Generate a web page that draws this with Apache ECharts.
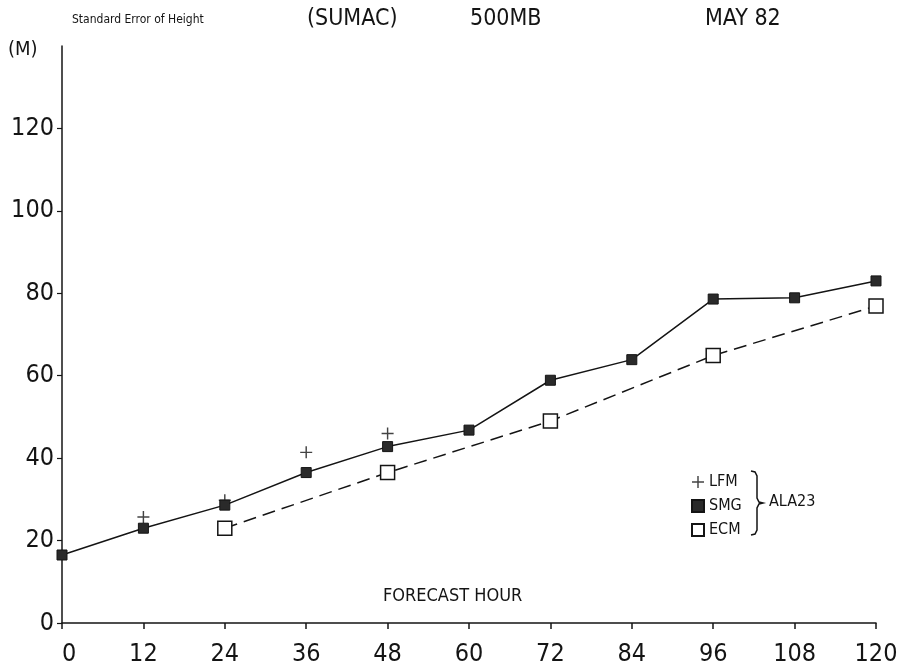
<!DOCTYPE html>
<html>
<head>
<meta charset="utf-8">
<script src="https://cdn.jsdelivr.net/npm/echarts@6/dist/echarts.min.js"></script>
<style>
html,body{margin:0;padding:0;background:#fff;}
#chart{width:910px;height:667px;}
</style>
</head>
<body>
<div id="chart"></div>
<script>
// Forecast hours (x)
var hours = [0, 12, 24, 36, 48, 60, 72, 84, 96, 108, 120];
// Standard error of height (m)
var smgValues = [16.5, 23, 28.6, 36.5, 42.8, 46.8, 58.9, 63.9, 78.6, 78.9, 83.0];
var ecmValues = [null, null, 23, null, 36.5, null, 49.0, null, 64.9, null, 76.9];
var lfmValues = [null, 25.7, 29.8, 41.4, 46.0, null, null, null, null, null, null];
var yTicks = [0, 20, 40, 60, 80, 100, 120];
var xTicks = [0, 12, 24, 36, 48, 60, 72, 84, 96, 108, 120];

var FONT = "'Liberation Sans Narrow', 'DejaVu Sans Condensed', 'Liberation Sans', sans-serif";
var INK = '#141414';
var plusPath = 'path://M4.4,0H5.6V4.4H10V5.6H5.6V10H4.4V5.6H0V4.4H4.4Z';

function pairs(vals) {
  var out = [];
  for (var i = 0; i < hours.length; i++) {
    if (vals[i] !== null) out.push([hours[i], vals[i]]);
  }
  return out;
}

var chart = echarts.init(document.getElementById('chart'), null, {renderer: 'canvas'});
var option = {
  backgroundColor: '#fff',
  animation: false,
  title: [
    {text: 'Standard Error of Height', left: 67, top: 9, textStyle: {fontFamily: FONT, fontSize: 12, fontWeight: 'normal', color: INK}},
    {text: '(SUMAC)', left: 302, top: 3, textStyle: {fontFamily: FONT, fontSize: 23, fontWeight: 'normal', color: INK}},
    {text: '500MB', left: 465, top: 3, textStyle: {fontFamily: FONT, fontSize: 23, fontWeight: 'normal', color: INK}},
    {text: 'MAY 82', left: 700, top: 3, textStyle: {fontFamily: FONT, fontSize: 23, fontWeight: 'normal', color: INK}},
    {text: '(M)', left: 3, top: 35, textStyle: {fontFamily: FONT, fontSize: 20, fontWeight: 'normal', color: INK}},
    {text: 'FORECAST HOUR', left: 378, top: 582, textStyle: {fontFamily: FONT, fontSize: 18, fontWeight: 'normal', color: INK}}
  ],
  grid: {left: 62, right: 34, top: 46, bottom: 44, containLabel: false},
  xAxis: {
    type: 'value', min: 0, max: 120, interval: 12,
    axisLine: {show: true, onZero: false, lineStyle: {color: INK, width: 1.5}},
    axisTick: {show: true, inside: false, length: 6, lineStyle: {color: INK, width: 1.5}},
    axisLabel: {show: true, margin: 19, fontFamily: FONT, fontSize: 25, color: INK, alignMinLabel: 'left'},
    splitLine: {show: false}
  },
  yAxis: {
    type: 'value', min: 0, max: 140, interval: 20,
    axisLine: {show: true, lineStyle: {color: INK, width: 1.5}},
    axisTick: {show: true, inside: false, length: 5, lineStyle: {color: INK, width: 1.2}, customValues: yTicks},
    axisLabel: {show: true, margin: 8, fontFamily: FONT, fontSize: 25, color: INK, customValues: yTicks},
    splitLine: {show: false}
  },
  legend: {
    orient: 'vertical', left: 686, top: 469, itemGap: 8, itemWidth: 12, itemHeight: 12,
    textStyle: {fontFamily: FONT, fontSize: 16, color: INK},
    data: [
      {name: 'LFM', icon: plusPath},
      {name: 'SMG', icon: 'rect'},
      {name: 'ECM', icon: 'rect'}
    ]
  },
  graphic: [
    {type: 'polyline', silent: true,
     shape: {points: [[751,471],[755,472],[757,476],[757,498],[759,502],[763,503],[759,504],[757,508],[757,530],[755,534],[751,535]]},
     style: {fill: null, stroke: INK, lineWidth: 1.5}},
    {type: 'text', left: 769, top: 494, silent: true, style: {text: 'ALA23', font: "16px " + FONT, fill: INK}}
  ],
  series: [
    {
      name: 'SMG', type: 'line', data: pairs(smgValues), z: 3,
      symbol: 'rect', symbolSize: 10,
      lineStyle: {color: INK, width: 1.5, type: 'solid'},
      itemStyle: {color: '#2a2a2a', borderColor: INK, borderWidth: 1}
    },
    {
      name: 'ECM', type: 'line', data: pairs(ecmValues), z: 3,
      symbol: 'rect', symbolSize: 14,
      lineStyle: {color: INK, width: 1.5, type: [13, 7]},
      itemStyle: {color: '#fff', borderColor: INK, borderWidth: 1.5}
    },
    {
      name: 'LFM', type: 'scatter', data: pairs(lfmValues), z: 2,
      symbol: plusPath, symbolSize: 12,
      itemStyle: {color: INK}
    }
  ]
};
chart.setOption(option);
</script>
</body>
</html>
